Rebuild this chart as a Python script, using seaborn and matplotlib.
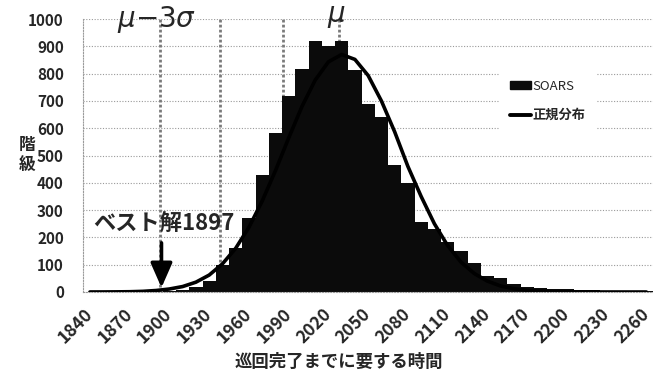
import numpy as np
import pandas as pd
import matplotlib
matplotlib.use("Agg")
import matplotlib.pyplot as plt
import seaborn as sns
from matplotlib.patches import Patch
from matplotlib.lines import Line2D

# histogram bins (start of each 10-unit class)
bins = list(range(1840, 2261, 10))
soars = [0, 0, 0, 0, 0, 1, 3, 7, 18, 39,
         100, 163, 270, 428, 582, 718, 818, 919, 900, 919,
         812, 689, 640, 464, 398, 257, 232, 184, 152, 105,
         58, 52, 30, 19, 16, 12, 10, 8, 6, 5,
         4, 3, 3]
normal = [0.1, 0.2, 0.5, 1, 2.4, 5.5, 11, 20, 36, 62,
          103, 160, 237, 333, 444, 564, 679, 776, 843, 870,
          852, 793, 700, 587, 460, 350, 250, 170, 110, 68,
          40, 22, 12, 6, 3, 1.3, 0.6, 0.2, 0.1, 0.03,
          0, 0, 0]
guide_values = [1893, 1938, 1986, 2028]   # mu-3s, mu-2s, mu-s, mu
best_value = 1897
tick_labels = [str(b) for b in bins[::3]]

df = pd.DataFrame({"bin": bins, "count": soars, "pos": np.arange(len(bins)), "normal": normal})

sns.set_style("white")
plt.rcParams['font.family'] = ['Noto Sans CJK JP', 'DejaVu Sans']
plt.rcParams['mathtext.fontset'] = 'dejavusans'

W, H = 653, 371
fig = plt.figure(figsize=(W / 100, H / 100), dpi=100)
ax = fig.add_axes([83.3 / W, 79 / H, (W - 83.3) / W, 273 / H])

grid_kw = dict(color="#9a9a9a", lw=0.8, linestyle=(0, (1, 1.5)))
for v in range(100, 1001, 100):
    ax.axhline(v, zorder=0, **grid_kw)

def to_pos(v):
    return (v - bins[0]) / 10

for g in guide_values:
    ax.axvline(to_pos(g), color="#7a7a7a", lw=2.0, linestyle=(0, (1, 0.8)), zorder=1)

sns.barplot(data=df, x="pos", y="count", color="#0b0b0b", width=1.0,
            saturation=1, native_scale=True, ax=ax, zorder=2, edgecolor="#0b0b0b", linewidth=0)
sns.lineplot(data=df, x="pos", y="normal", color="black", lw=2.6, ax=ax, zorder=3)

ax.set_xlim(-0.5, -0.5 + (W - 83.3) / 13.29)
ax.set_ylim(0, 1000)
ax.set_yticks(range(0, 1001, 100))
ax.set_yticklabels([str(v) for v in range(0, 1001, 100)], fontsize=11, fontweight="bold")
ax.tick_params(axis="y", length=0, pad=14)

ax.set_xticks(range(0, len(bins), 3))
ax.set_xticklabels(tick_labels, rotation=45, ha="right", va="center",
                   rotation_mode="anchor", fontsize=12.5, fontweight="bold")
ax.set_xticks(np.arange(-0.5, len(bins), 1), minor=True)
ax.tick_params(axis="x", which="major", length=0, pad=14)
ax.tick_params(axis="x", which="minor", length=4, width=0.8, color="#777777", direction="out")
ax.set_xlabel("")
ax.set_ylabel("")

for s in ["top", "right"]:
    ax.spines[s].set_visible(False)
for s in ["left", "bottom"]:
    ax.spines[s].set_color("#9a9a9a")
    ax.spines[s].set_linestyle((0, (1, 1.5)))
    ax.spines[s].set_linewidth(0.8)

# annotations
ax.text(to_pos(guide_values[0]) - 0.25, 1000, r"$\mu$−3$\sigma$", fontsize=20,
        family="DejaVu Sans", ha="center", va="center", zorder=5)
ax.text(to_pos(guide_values[3]) - 0.2, 1010, r"$\mu$", fontsize=20,
        family="DejaVu Sans", ha="center", va="center", zorder=5)
ax.text(to_pos(best_value) - 0.1, 250, f"ベスト解{best_value}", fontsize=16,
        fontweight="bold", ha="center", va="center", zorder=5)
ax.annotate("", xy=(to_pos(best_value) - 0.3, 16), xytext=(to_pos(best_value) - 0.3, 180),
            arrowprops=dict(arrowstyle="-|>,head_width=0.33,head_length=0.75",
                            mutation_scale=20, color="black", lw=2.6,
                            shrinkA=0, shrinkB=0), zorder=5)

handles = [Patch(facecolor="#0b0b0b", edgecolor="#0b0b0b"),
           Line2D([0], [0], color="black", lw=2.8)]
leg = ax.legend(handles, ["SOARS", "正規分布"], loc="center left",
                bbox_to_anchor=((493 - 83.3) / (W - 83.3), 0.70),
                frameon=True, facecolor="white", edgecolor="none", framealpha=1,
                prop={"size": 9.5, "weight": "bold"}, handlelength=1.6, handleheight=0.6,
                handletextpad=0.1, labelspacing=1.15, borderpad=0.8, fancybox=False)
leg.get_texts()[0].set_fontweight("normal")
leg.set_zorder(6)

fig.text(27 / W, 1 - 155 / H, "階\n級", fontsize=12, fontweight="bold",
         ha="center", va="center", linespacing=1.2)
fig.text(339 / W, 1 - 362 / H, "巡回完了までに要する時間", fontsize=12.5,
         fontweight="bold", ha="center", va="center")

fig.savefig("out.png", dpi=100)
